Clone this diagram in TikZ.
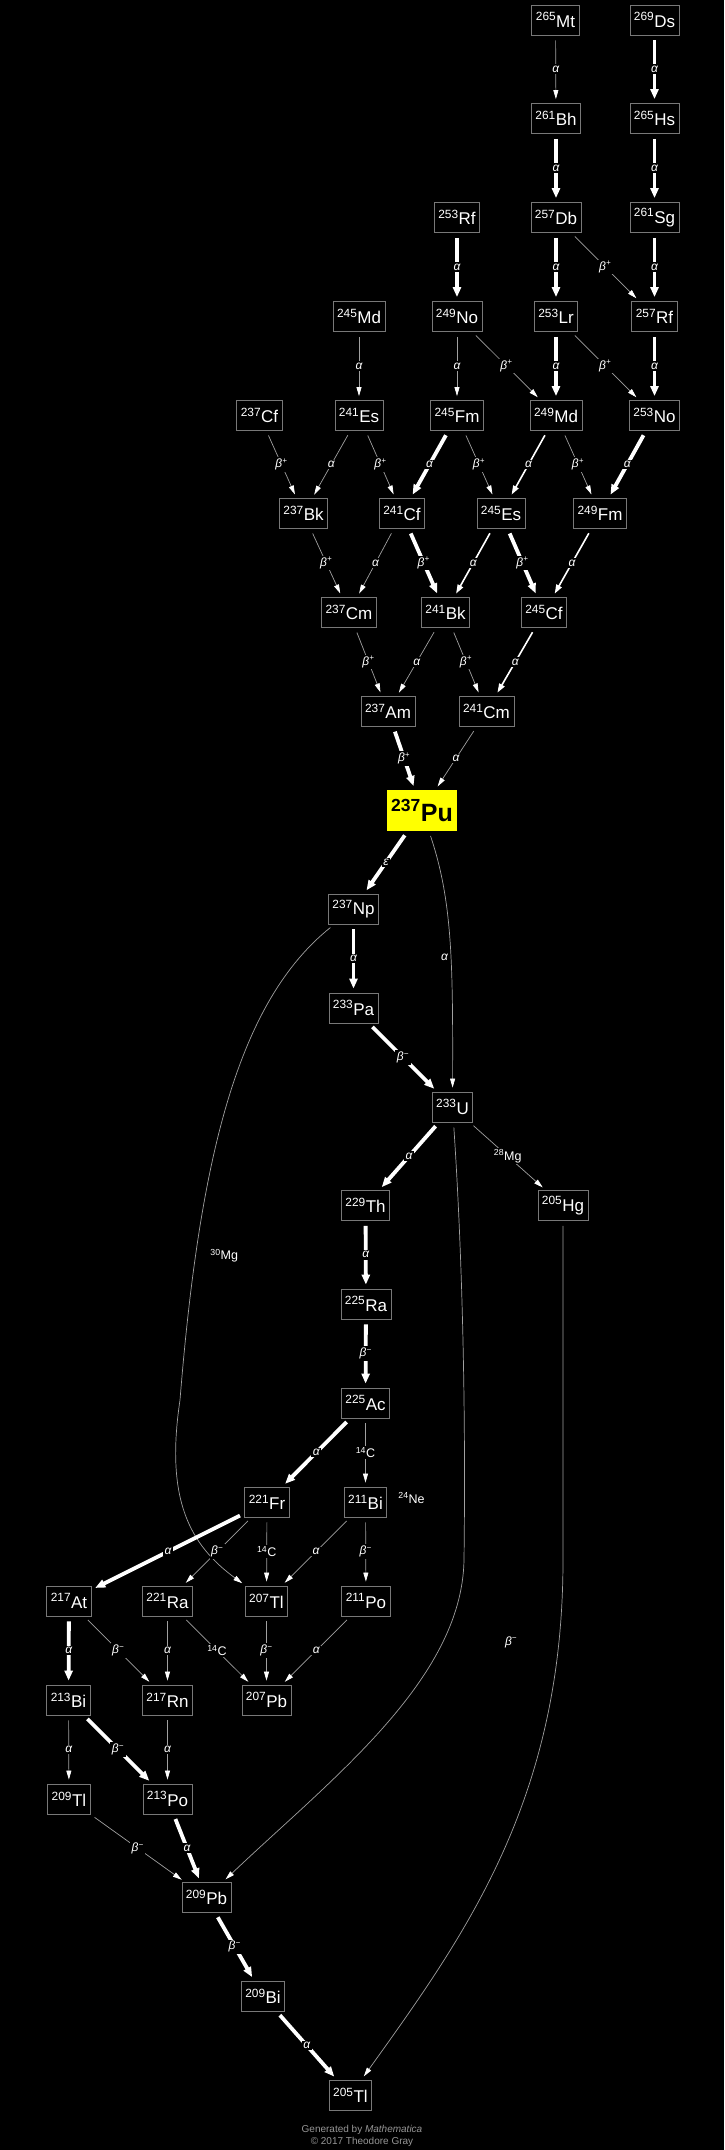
\documentclass[tikz,border=0pt]{standalone}
\usepackage{fontspec}
\setmainfont{Liberation Sans}
\usepackage{tikz}
\usetikzlibrary{arrows.meta}

\newcommand{\iso}[2]{\textsuperscript{#1}#2}
\newcommand{\bplus}{β\textsuperscript{+}}
\newcommand{\bminus}{β\textsuperscript{−}}

\begin{document}
\begin{tikzpicture}[x=1pt,y=1pt,yscale=-1,
  nuc/.style={draw={rgb,255:red,120;green,120;blue,120}, line width=0.8pt, text=white, minimum height=30pt, inner xsep=4pt, inner ysep=0pt, font=\fontsize{17}{20}\selectfont},
  parent/.style={fill={rgb,255:red,255;green,255;blue,0}, text=black, minimum height=41pt, inner xsep=4.5pt, inner ysep=0pt, font=\fontsize{25}{28}\selectfont\bfseries},
  dthin/.style={draw={rgb,255:red,160;green,160;blue,160}, line width=0.7pt, shorten <=5pt, shorten >=4pt, -{Triangle[length=9pt,width=5pt,color=white]}},
  dmid/.style={draw=white, line width=1.6pt, shorten <=5pt, shorten >=4pt, -{Triangle[length=9pt,width=6pt]}},
  dthick/.style={draw=white, line width=3.8pt, shorten <=5pt, shorten >=4pt, -{Triangle[length=10pt,width=8pt]}},
  lbl/.style={fill=black, text=white, inner sep=1.5pt, font=\fontsize{12}{12}\selectfont\itshape},
  clbl/.style={fill=black, text=white, inner sep=1.5pt, font=\fontsize{12.5}{12.5}\selectfont}]

%Shape: Rectangle [background]
\fill[black] (0,0) rectangle (724,2150);

% Nuclide Nodes
\node[nuc] (mt265) at (555.5,20) {\iso{265}{Mt}};
\node[nuc] (ds269) at (654.5,20) {\iso{269}{Ds}};
\node[nuc] (bh261) at (556,118.5) {\iso{261}{Bh}};
\node[nuc] (hs265) at (654.5,118.5) {\iso{265}{Hs}};
\node[nuc] (rf253) at (457,217.5) {\iso{253}{Rf}};
\node[nuc] (db257) at (556,217.5) {\iso{257}{Db}};
\node[nuc] (sg261) at (654.5,217.5) {\iso{261}{Sg}};
\node[nuc] (md245) at (359,316.5) {\iso{245}{Md}};
\node[nuc] (no249) at (457,316.5) {\iso{249}{No}};
\node[nuc] (lr253) at (556,316.5) {\iso{253}{Lr}};
\node[nuc] (rf257) at (654.5,316.5) {\iso{257}{Rf}};
\node[nuc] (cf237) at (259.5,415.5) {\iso{237}{Cf}};
\node[nuc] (es241) at (359,415.5) {\iso{241}{Es}};
\node[nuc] (fm245) at (457,415.5) {\iso{245}{Fm}};
\node[nuc] (md249) at (556,415.5) {\iso{249}{Md}};
\node[nuc] (no253) at (654.5,415.5) {\iso{253}{No}};
\node[nuc] (bk237) at (303.5,513.5) {\iso{237}{Bk}};
\node[nuc] (cf241) at (402,513.5) {\iso{241}{Cf}};
\node[nuc] (es245) at (501,513.5) {\iso{245}{Es}};
\node[nuc] (fm249) at (600,513.5) {\iso{249}{Fm}};
\node[nuc] (cm237) at (349,612.5) {\iso{237}{Cm}};
\node[nuc] (bk241) at (445.5,612.5) {\iso{241}{Bk}};
\node[nuc] (cf245) at (544,612.5) {\iso{245}{Cf}};
\node[nuc] (am237) at (388,711.5) {\iso{237}{Am}};
\node[nuc] (cm241) at (486.5,711.5) {\iso{241}{Cm}};
\node[parent] (pu237) at (422,810.5) {\iso{237}{Pu}};
\node[nuc] (np237) at (353.5,909) {\iso{237}{Np}};
\node[nuc] (pa233) at (353.5,1008) {\iso{233}{Pa}};
\node[nuc] (u233) at (452.5,1107) {\iso{233}{U}};
\node[nuc] (th229) at (365.5,1205.5) {\iso{229}{Th}};
\node[nuc] (hg205) at (563,1205.5) {\iso{205}{Hg}};
\node[nuc] (ra225) at (366,1304) {\iso{225}{Ra}};
\node[nuc] (ac225) at (365.5,1403) {\iso{225}{Ac}};
\node[nuc] (fr221) at (267,1502) {\iso{221}{Fr}};
\node[nuc] (bi211) at (365.5,1502) {\iso{211}{Bi}};
\node[nuc] (at217) at (69,1601) {\iso{217}{At}};
\node[nuc] (ra221) at (167.5,1601) {\iso{221}{Ra}};
\node[nuc] (tl207) at (266.5,1601) {\iso{207}{Tl}};
\node[nuc] (po211) at (366,1601) {\iso{211}{Po}};
\node[nuc] (bi213) at (68.5,1700) {\iso{213}{Bi}};
\node[nuc] (rn217) at (167.5,1700) {\iso{217}{Rn}};
\node[nuc] (pb207) at (266.5,1700) {\iso{207}{Pb}};
\node[nuc] (tl209) at (69,1799) {\iso{209}{Tl}};
\node[nuc] (po213) at (167.5,1799) {\iso{213}{Po}};
\node[nuc] (pb209) at (206.5,1897.5) {\iso{209}{Pb}};
\node[nuc] (bi209) at (263,1996) {\iso{209}{Bi}};
\node[nuc] (tl205) at (350.5,2095) {\iso{205}{Tl}};

% Arrows above 237Pu
\draw[dthin] (mt265) -- node[lbl]{α} (bh261);
\draw[dthick] (ds269) -- node[lbl]{α} (hs265);
\draw[dthick] (bh261) -- node[lbl]{α} (db257);
\draw[dthick] (hs265) -- node[lbl]{α} (sg261);
\draw[dthick] (rf253) -- node[lbl]{α} (no249);
\draw[dthick] (db257) -- node[lbl]{α} (lr253);
\draw[dthin] (db257) -- node[lbl]{\bplus} (rf257);
\draw[dthick] (sg261) -- node[lbl]{α} (rf257);
\draw[dthin] (md245) -- node[lbl]{α} (es241);
\draw[dthin] (no249) -- node[lbl]{α} (fm245);
\draw[dthin] (no249) -- node[lbl]{\bplus} (md249);
\draw[dthick] (lr253) -- node[lbl]{α} (md249);
\draw[dthin] (lr253) -- node[lbl]{\bplus} (no253);
\draw[dthick] (rf257) -- node[lbl]{α} (no253);
\draw[dthin] (cf237) -- node[lbl]{\bplus} (bk237);
\draw[dthin] (es241) -- node[lbl]{α} (bk237);
\draw[dthin] (es241) -- node[lbl]{\bplus} (cf241);
\draw[dthick] (fm245) -- node[lbl]{α} (cf241);
\draw[dthin] (fm245) -- node[lbl]{\bplus} (es245);
\draw[dmid] (md249) -- node[lbl]{α} (es245);
\draw[dthin] (md249) -- node[lbl]{\bplus} (fm249);
\draw[dthick] (no253) -- node[lbl]{α} (fm249);
\draw[dthin] (bk237) -- node[lbl]{\bplus} (cm237);
\draw[dthin] (cf241) -- node[lbl]{α} (cm237);
\draw[dthick] (cf241) -- node[lbl]{\bplus} (bk241);
\draw[dmid] (es245) -- node[lbl]{α} (bk241);
\draw[dthick] (es245) -- node[lbl]{\bplus} (cf245);
\draw[dmid] (fm249) -- node[lbl]{α} (cf245);
\draw[dthin] (cm237) -- node[lbl]{\bplus} (am237);
\draw[dthin] (bk241) -- node[lbl]{α} (am237);
\draw[dthin] (bk241) -- node[lbl]{\bplus} (cm241);
\draw[dmid] (cf245) -- node[lbl]{α} (cm241);
\draw[dthick] (am237) -- node[lbl]{\bplus} (pu237);
\draw[dthin] (cm241) -- node[lbl]{α} (pu237);

% Arrows below 237Pu
\draw[dthick] (pu237) -- node[lbl]{ε} (np237);
\draw[dthin] (pu237) .. controls (452,900) and (453,960) .. node[lbl, pos=0.58, left=1pt]{α} (u233);
\draw[dthick] (np237) -- node[lbl]{α} (pa233);
\draw[dthin] (np237) .. controls (240,1000) and (200,1150) .. node[clbl, pos=0.79, right=13pt]{\iso{30}{Mg}} (180,1400) .. controls (165,1500) and (190,1545) .. (tl207);
\draw[dthick] (pa233) -- node[lbl]{\bminus} (u233);
\draw[dthick] (u233) -- node[lbl]{α} (th229);
\draw[dthin] (u233) -- node[clbl]{\iso{28}{Mg}} (hg205);
\draw[dthin] (u233) .. controls (462,1250) and (466,1400) .. node[clbl, pos=0.87, left=38pt]{\iso{24}{Ne}} (464,1560) .. controls (462,1680) and (330,1780) .. (pb209);
\draw[dthick] (th229) -- node[lbl]{α} (ra225);
\draw[dthick] (ra225) -- node[lbl]{\bminus} (ac225);
\draw[dthick] (ac225) -- node[lbl]{α} (fr221);
\draw[dthin] (ac225) -- node[clbl]{\iso{14}{C}} (bi211);
\draw[dthin] (hg205) -- (563,1560) .. controls (563,1800) and (465,1935) .. node[lbl, pos=0.12, left=40pt]{\bminus} (tl205);
\draw[dthick] (fr221) -- node[lbl]{α} (at217);
\draw[dthin] (fr221) -- node[lbl]{\bminus} (ra221);
\draw[dthin] (fr221) -- node[clbl]{\iso{14}{C}} (tl207);
\draw[dthin] (bi211) -- node[lbl]{α} (tl207);
\draw[dthin] (bi211) -- node[lbl]{\bminus} (po211);
\draw[dthick] (at217) -- node[lbl]{α} (bi213);
\draw[dthin] (at217) -- node[lbl]{\bminus} (rn217);
\draw[dthin] (ra221) -- node[lbl]{α} (rn217);
\draw[dthin] (ra221) -- node[clbl]{\iso{14}{C}} (pb207);
\draw[dthin] (tl207) -- node[lbl]{\bminus} (pb207);
\draw[dthin] (po211) -- node[lbl]{α} (pb207);
\draw[dthin] (bi213) -- node[lbl]{α} (tl209);
\draw[dthick] (bi213) -- node[lbl]{\bminus} (po213);
\draw[dthin] (rn217) -- node[lbl]{α} (po213);
\draw[dthin] (tl209) -- node[lbl]{\bminus} (pb209);
\draw[dthick] (po213) -- node[lbl]{α} (pb209);
\draw[dthick] (pb209) -- node[lbl]{\bminus} (bi209);
\draw[dthick] (bi209) -- node[lbl]{α} (tl205);

% Text Node
\node[text={rgb,255:red,150;green,150;blue,150}, font=\fontsize{10}{12}\selectfont, align=center] (credit) at (362,2136) {Generated by \textit{Mathematica}\\© 2017 Theodore Gray};

\end{tikzpicture}
\end{document}
